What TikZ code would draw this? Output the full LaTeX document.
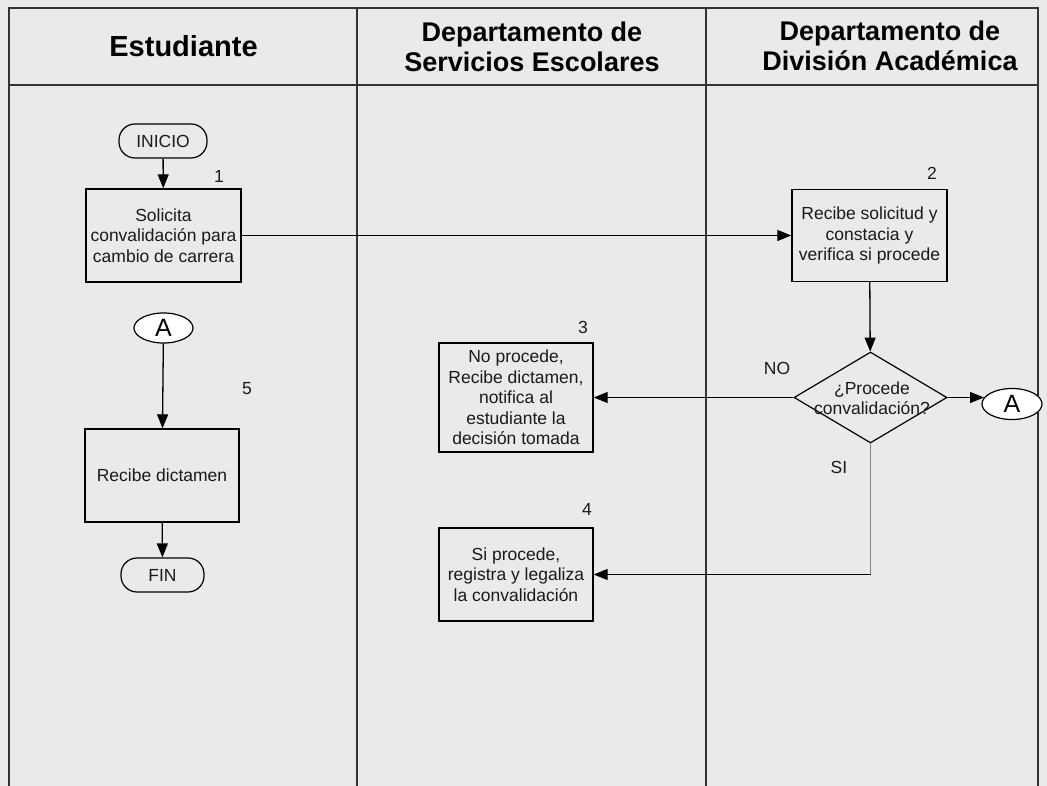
\documentclass[tikz,border=0pt]{standalone}
\usepackage{fontspec}
\setmainfont{Liberation Sans}
\usetikzlibrary{shapes.geometric,arrows.meta}
\definecolor{bg}{HTML}{EAEAEA}
\definecolor{frame}{HTML}{333333}
\definecolor{ink}{HTML}{1A1A1A}
\tikzset{
  lane/.style={draw=frame, line width=1.7pt},
  head/.style={font=\bfseries\fontsize{27}{30}\selectfont, align=center, inner sep=0pt},
  box/.style={draw=black, line width=1.4pt, fill=bg, align=center, inner sep=2pt,
    text=ink, font=\fontsize{17.5}{20.5}\selectfont},
  term/.style={draw=black, line width=1.2pt, rounded corners=16pt, fill=bg, text=ink,
    font=\fontsize{17.5}{20}\selectfont, minimum height=34pt, inner sep=0pt},
  conn/.style={draw=black, line width=1.2pt, ellipse, fill=white, inner sep=0pt,
    font=\fontsize{25}{26}\selectfont},
  dia/.style={draw=black, line width=1.2pt, diamond, inner sep=0pt, fill=bg,
    minimum width=153pt, minimum height=91pt},
  num/.style={font=\fontsize{17.5}{20}\selectfont, inner sep=0pt, text=ink},
  flow/.style={draw=black, line width=1.3pt, -{Triangle[length=14pt,width=11pt]}},
}
\begin{document}
\begin{tikzpicture}[x=1pt,y=-1pt]
\useasboundingbox (0,0) rectangle (1047,786);
\fill[bg] (0,0) rectangle (1047,786);
% lanes
\draw[lane] (9,786) -- (9,8) -- (1038,8) -- (1038,786);
\draw[lane] (9,85) -- (1038,85);
\draw[lane] (357,8) -- (357,786);
\draw[lane] (706,8) -- (706,786);
\node[head, font=\bfseries\fontsize{29}{30}\selectfont] (h1) at (183.5,46) {Estudiante};
\node[head] (h2) at (532,47) {Departamento de\\Servicios Escolares};
\node[head] (h3) at (890,46) {Departamento de\\División Académica};
% nodes
\node[term, minimum width=88pt] (ini) at (163,141) {INICIO};
\node[box, minimum width=155pt, minimum height=93pt] (b1) at (163.5,235.5) {Solicita\\convalidación para\\cambio de carrera};
\node[num] (n1) at (219,176) {1};
\node[box, minimum width=155pt, minimum height=92pt] (b2) at (869.5,235.5) {Recibe solicitud y\\constacia y\\verifica si procede};
\node[num] (n2) at (932,173) {2};
\node[dia] (d) at (870.5,397.5) {};
\node[font=\fontsize{17.5}{20.5}\selectfont, text=ink, align=center, inner sep=0pt] (dt) at (872,398) {¿Procede\\convalidación?};
\node[conn, minimum width=60pt, minimum height=31pt] (aR) at (1012,404) {A};
\node[num] (no) at (777,368) {NO};
\node[num] (si) at (839,467) {SI};
\node[box, minimum width=154pt, minimum height=109pt] (b3) at (516,397.5) {No procede,\\Recibe dictamen,\\notifica al\\estudiante la\\decisión tomada};
\node[num] (n3) at (583,327) {3};
\node[box, minimum width=154pt, minimum height=93pt] (b4) at (516,574.5) {Si procede,\\registra y legaliza\\la convalidación};
\node[num] (n4) at (587,509) {4};
\node[conn, minimum width=59pt, minimum height=30pt] (aL) at (163.5,328) {A};
\node[box, minimum width=154pt, minimum height=93pt] (b5) at (162,475.5) {Recibe dictamen};
\node[num] (n5) at (247,389) {5};
\node[term, minimum width=83pt] (fin) at (162.5,575) {FIN};
\coordinate (sic) at (870.5,574.5);
\coordinate (ain) at (984,397.5);
% connectors
\draw[flow] (ini) -- (b1);
\draw[flow] (b1.east) -- (b2.west);
\draw[flow] (b2) -- (d);
\draw[flow] (d.east) -- (ain);
\draw[flow] (d.west) -- (b3.east);
\draw[draw=gray, line width=1.3pt] (d.south) -- (sic);
\draw[flow] (sic) -- (b4.east);
\draw[flow] (aL) -- (b5);
\draw[flow] (b5) -- (fin);
\end{tikzpicture}
\end{document}
